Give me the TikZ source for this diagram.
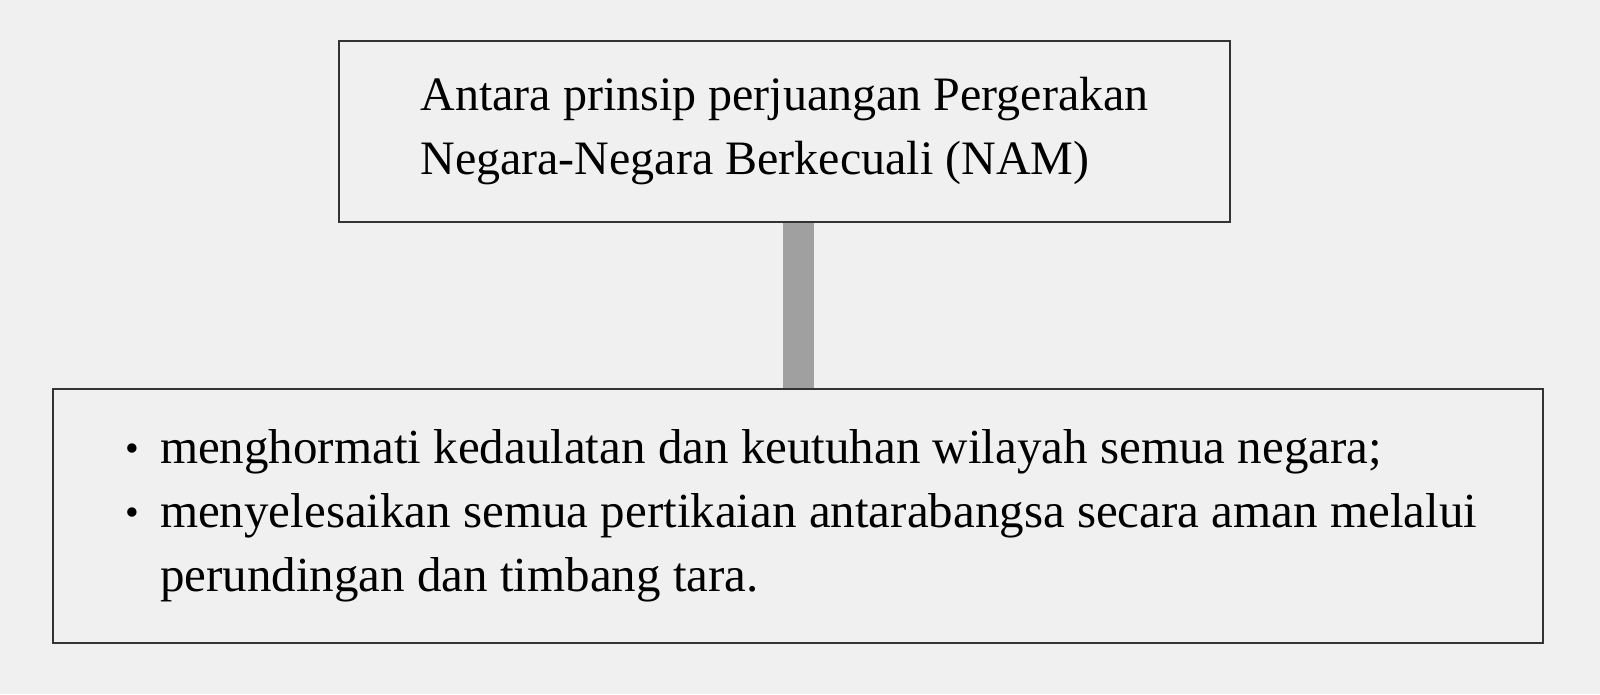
\documentclass[tikz,border=0pt]{standalone}
\usepackage{fontspec}
\setmainfont{Liberation Serif}
\usepackage{xcolor}
\usepackage{tikz}
\definecolor{latar}{HTML}{F0F0F0}
\definecolor{garis}{HTML}{333333}
\definecolor{tiang}{HTML}{A0A0A0}
\newcommand{\butir}[1]{\par\hangindent=35pt\hangafter=1\noindent\makebox[35pt][l]{\raisebox{2pt}{\scalebox{0.8}{\textbullet}}}#1}

\begin{document}
\begin{tikzpicture}[x=1pt,y=-1pt,
		kotak/.style={draw=garis,line width=2.5pt,fill=latar,outer sep=0pt,anchor=north west,font=\fontsize{48}{64}\selectfont}]
			\fill[latar] (0,0) rectangle (1600,694);
			\useasboundingbox (0,0) rectangle (1600,694);
			
			\node[kotak,minimum width=891pt,minimum height=181pt,align=left] (prinsip) at (339,41) {Antara prinsip perjuangan Pergerakan\\Negara-Negara Berkecuali (NAM)};
			\node[kotak,minimum width=1490pt,minimum height=254pt,inner xsep=0pt,font=\fontsize{49}{64}\selectfont] (isi) at (53,389) {%
				\begin{minipage}{1490pt}\raggedright\leftskip=72pt
				\butir{menghormati kedaulatan dan keutuhan wilayah semua negara;}
				\butir{menyelesaikan semua pertikaian antarabangsa secara aman melalui\newline perundingan dan timbang tara.}
				\end{minipage}};
			
			\draw[tiang,line width=31pt,shorten <=1.25pt,shorten >=1.25pt] (isi.north |- prinsip.south) -- (isi.north);
		\end{tikzpicture}
\end{document}
